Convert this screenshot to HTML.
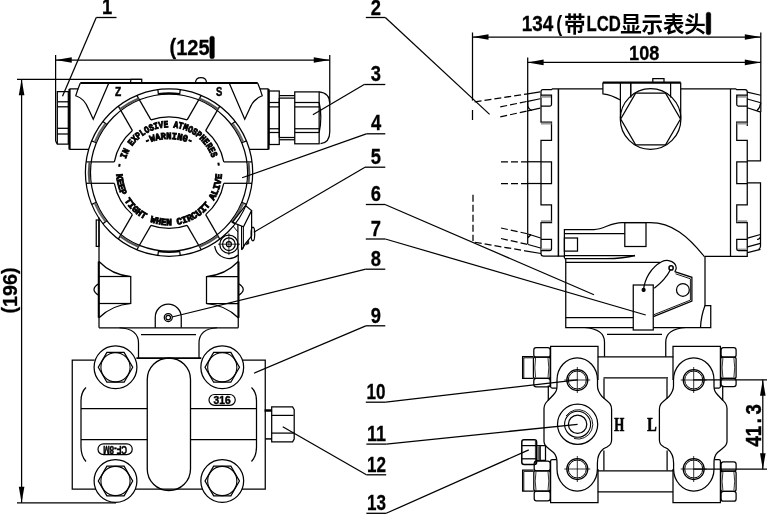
<!DOCTYPE html>
<html><head><meta charset="utf-8"><title>Transmitter outline drawing</title>
<style>
html,body{margin:0;padding:0;background:#fff;}
svg{display:block;will-change:transform;}
.sb{font-family:"Liberation Sans",sans-serif;font-weight:bold;}
.cj{font-family:"Liberation Sans","Noto Sans CJK SC",sans-serif;font-weight:bold;}
.sf{font-family:"Liberation Serif",serif;font-weight:bold;}
.cv{font-family:"Liberation Mono",monospace;font-weight:bold;}
</style></head><body>
<svg width="767" height="514" viewBox="0 0 767 514">
<rect x="0" y="0" width="767" height="514" fill="#fff" stroke="none"/>
<g stroke="#000" fill="none" stroke-width="1.25">
<line x1="17" y1="79.25" x2="141.75" y2="79.25"/>
<line x1="17" y1="502.75" x2="116" y2="502.75"/>
<line x1="21.6" y1="79.25" x2="21.6" y2="502.75"/>
<path d="M21.6,79.25 L24.4,95.25 L18.8,95.25 Z" fill="#000" stroke="none"/>
<path d="M21.6,502.75 L18.8,486.75 L24.4,486.75 Z" fill="#000" stroke="none"/>
<line x1="55.75" y1="60" x2="329.75" y2="60"/>
<path d="M55.75,60 L71.75,57.2 L71.75,62.8 Z" fill="#000" stroke="none"/>
<path d="M329.75,60 L313.75,62.8 L313.75,57.2 Z" fill="#000" stroke="none"/>
<line x1="55.6" y1="55" x2="55.6" y2="141.2"/>
<line x1="329.75" y1="55" x2="329.75" y2="103"/>
<path d="M57.3,144.2 V91.5 H68.3 V144.2 H57.3 L55.6,141.2"/>
<line x1="57.4" y1="101.8" x2="68.3" y2="101.8"/>
<line x1="57.4" y1="106.8" x2="68.3" y2="106.8"/>
<line x1="57.4" y1="128.3" x2="68.3" y2="128.3"/>
<line x1="57.4" y1="134" x2="68.3" y2="134"/>
<line x1="80.25" y1="83" x2="257.75" y2="83" stroke-width="2"/>
<path d="M88.9,149.4 H70 V88.9 H78 L80.25,83.2"/>
<line x1="69.2" y1="88.9" x2="69.2" y2="149.4" stroke-width="1.6"/>
<path d="M78,88.9 L75.75,95.75 Q84.5,98.5 88.5,109 L93.25,119.25 L108.6,83.5"/>
<path d="M249.1,149.4 H268 V88.9 H260 L257.75,83.2"/>
<line x1="268.8" y1="88.9" x2="268.8" y2="149.4" stroke-width="1.6"/>
<path d="M260,88.9 L262.25,95.75 Q253.5,98.5 249.5,109 L244.75,119.25 L229.4,83.5"/>
<path d="M130.5,82.3 L131,79.25 H141.75 V82.3"/>
<path d="M195.5,82.3 Q196,77.6 201,77.6 Q206,77.6 206.5,82.3"/>
<rect x="269" y="91" width="10.25" height="53.5"/>
<line x1="269" y1="102.5" x2="279.25" y2="102.5"/>
<line x1="269" y1="106.9" x2="279.25" y2="106.9"/>
<line x1="269" y1="128.75" x2="279.25" y2="128.75"/>
<line x1="269" y1="132.5" x2="279.25" y2="132.5"/>
<line x1="279.25" y1="95.6" x2="294.75" y2="95.6"/>
<line x1="279.25" y1="98.1" x2="294.75" y2="98.1"/>
<line x1="279.25" y1="137.5" x2="294.75" y2="137.5"/>
<line x1="279.25" y1="139.75" x2="294.75" y2="139.75"/>
<line x1="279.25" y1="98.1" x2="279.25" y2="137.5"/>
<rect x="294.75" y="91.9" width="24.4" height="51.9"/>
<line x1="294.75" y1="102.5" x2="319.15" y2="102.5"/>
<line x1="294.75" y1="106.9" x2="319.15" y2="106.9"/>
<line x1="294.75" y1="128.75" x2="319.15" y2="128.75"/>
<line x1="294.75" y1="132.5" x2="319.15" y2="132.5"/>
<path d="M319.15,102.5 Q322.5,117.5 319.15,132.5"/>
<path d="M319.15,91.9 Q329.75,93 329.75,103.5 V131.9 Q329.75,142.5 320.5,143.6"/>
<circle cx="169.05" cy="172.6" r="83.65"/>
<circle cx="169.05" cy="172.6" r="78.6"/>
<line x1="187.14" y1="119.87" x2="201.26" y2="95.4"/>
<line x1="205.67" y1="130.57" x2="219.8" y2="106.1"/>
<path d="M199.51,98.41 A80.2,80.2 0 0 1 218.07,109.12" stroke-width="2.2" stroke="#555"/>
<line x1="223.76" y1="161.9" x2="252.01" y2="161.9"/>
<line x1="223.76" y1="183.3" x2="252.01" y2="183.3"/>
<path d="M248.53,161.89 A80.2,80.2 0 0 1 248.53,183.31" stroke-width="2.2" stroke="#555"/>
<line x1="205.67" y1="214.63" x2="219.8" y2="239.1"/>
<line x1="187.14" y1="225.33" x2="201.26" y2="249.8"/>
<path d="M218.07,236.08 A80.2,80.2 0 0 1 199.51,246.79" stroke-width="2.2" stroke="#555"/>
<line x1="150.96" y1="225.33" x2="136.84" y2="249.8"/>
<line x1="132.43" y1="214.63" x2="118.3" y2="239.1"/>
<path d="M138.59,246.79 A80.2,80.2 0 0 1 120.03,236.08" stroke-width="2.2" stroke="#555"/>
<line x1="114.34" y1="183.3" x2="86.09" y2="183.3"/>
<line x1="114.34" y1="161.9" x2="86.09" y2="161.9"/>
<path d="M89.57,183.31 A80.2,80.2 0 0 1 89.57,161.89" stroke-width="2.2" stroke="#555"/>
<line x1="132.43" y1="130.57" x2="118.3" y2="106.1"/>
<line x1="150.96" y1="119.87" x2="136.84" y2="95.4"/>
<path d="M120.03,109.12 A80.2,80.2 0 0 1 138.59,98.41" stroke-width="2.2" stroke="#555"/>
<path d="M150.96,119.87 A55.75,55.75 0 0 1 187.14,119.87"/>
<line x1="157.84" y1="89.7" x2="158.52" y2="94.71"/>
<line x1="180.26" y1="89.7" x2="179.58" y2="94.71"/>
<path d="M158.4,93.82 A79.5,79.5 0 0 1 179.7,93.82" stroke-width="1.6"/>
<path d="M205.67,130.57 A55.75,55.75 0 0 1 223.76,161.9"/>
<line x1="235.24" y1="121.45" x2="231.24" y2="124.53"/>
<line x1="246.44" y1="140.86" x2="241.77" y2="142.77"/>
<path d="M232.68,123.78 A80.2,80.2 0 0 1 243.15,141.91" stroke-width="2.3" stroke="#666"/>
<path d="M223.76,183.3 A55.75,55.75 0 0 1 205.67,214.63"/>
<line x1="246.44" y1="204.34" x2="241.77" y2="202.43"/>
<line x1="235.24" y1="223.75" x2="231.24" y2="220.67"/>
<path d="M243.15,203.29 A80.2,80.2 0 0 1 232.68,221.42" stroke-width="2.3" stroke="#666"/>
<path d="M187.14,225.33 A55.75,55.75 0 0 1 150.96,225.33"/>
<line x1="180.26" y1="255.5" x2="179.58" y2="250.49"/>
<line x1="157.84" y1="255.5" x2="158.52" y2="250.49"/>
<path d="M179.7,251.38 A79.5,79.5 0 0 1 158.4,251.38" stroke-width="1.6"/>
<path d="M132.43,214.63 A55.75,55.75 0 0 1 114.34,183.3"/>
<line x1="102.86" y1="223.75" x2="106.86" y2="220.67"/>
<line x1="91.66" y1="204.34" x2="96.33" y2="202.43"/>
<path d="M105.42,221.42 A80.2,80.2 0 0 1 94.95,203.29" stroke-width="2.3" stroke="#666"/>
<path d="M114.34,161.9 A55.75,55.75 0 0 1 132.43,130.57"/>
<line x1="91.66" y1="140.86" x2="96.33" y2="142.77"/>
<line x1="102.86" y1="121.45" x2="106.86" y2="124.53"/>
<path d="M94.95,141.91 A80.2,80.2 0 0 1 105.42,123.78" stroke-width="2.3" stroke="#666"/>
<defs><path id="tp1" d="M123.96,168.26 A45.3,45.3 0 0 1 214.06,167.47" fill="none" stroke="none"/><path id="tp2" d="M116.27,173.98 A52.8,52.8 0 0 0 221.83,173.98" fill="none" stroke="none"/><path id="tp3" d="M146.05,144.09 A53.3,53.3 0 0 1 191.95,144.09" fill="none" stroke="none"/></defs>
<path d="M245.4,205.6 L251.6,210.6 L243.5,226.8 L232.3,222.4Z"/>
<line x1="251.6" y1="210.6" x2="251.6" y2="236.1"/>
<line x1="237.9" y1="225" x2="237.9" y2="249.8"/>
<line x1="241.6" y1="226" x2="241.6" y2="249.8"/>
<line x1="243.5" y1="226.8" x2="243.5" y2="248.5" stroke-width="0.9"/>
<circle cx="228.9" cy="244.2" r="9.1"/>
<circle cx="228.9" cy="244.2" r="6.3"/>
<circle cx="228.9" cy="244.2" r="2.5"/>
<line x1="218" y1="244.2" x2="240" y2="244.2" stroke-width="0.8"/>
<line x1="228.9" y1="233.3" x2="228.9" y2="255.1" stroke-width="0.8"/>
<path d="M214.7,246 A14.3,14.3 0 0 0 238.2,255"/>
<ellipse cx="252.9" cy="234" rx="1.8" ry="6.8"/>
<path d="M251.6,236.1 L245.4,243.6 L241.6,249.8"/>
<path d="M248.6,240.2 L245.8,245 L249,243.6Z" stroke-width="0.5" fill="#000"/>
<path d="M233,226 L237.9,232" stroke-width="0.9"/>
<line x1="99" y1="217.5" x2="99" y2="327.75"/>
<line x1="238.25" y1="249.5" x2="238.25" y2="327.75"/>
<rect x="96.25" y="220" width="2.75" height="26.4"/>
<line x1="99" y1="327.75" x2="238.25" y2="327.75"/>
<path d="M99,261.5 Q112,275 130.75,276.5 V303.5 Q112,305 99,317.75"/>
<line x1="99" y1="276.5" x2="130.75" y2="276.5"/>
<line x1="99" y1="303.5" x2="130.75" y2="303.5"/>
<path d="M99,283.5 Q89,289.5 99,295.5"/>
<line x1="98.7" y1="261.5" x2="98.7" y2="317.75" stroke-width="1.9"/>
<path d="M238.25,261.5 Q225.25,275 206.5,276.5 V303.5 Q225.25,305 238.25,317.75"/>
<line x1="238.25" y1="276.5" x2="206.5" y2="276.5"/>
<line x1="238.25" y1="303.5" x2="206.5" y2="303.5"/>
<path d="M238.25,283.5 Q248.25,289.5 238.25,295.5"/>
<line x1="238.55" y1="261.5" x2="238.55" y2="317.75" stroke-width="1.9"/>
<path d="M155.25,327.75 V317.2 A13,13 0 0 1 181.25,317.2 V327.75"/>
<circle cx="168.25" cy="317.6" r="4"/>
<circle cx="168.25" cy="317.6" r="2.3"/>
<path d="M119.5,327.75 Q138.5,329 138.5,343 V358"/>
<path d="M217,327.75 Q199,329 199,343 V358"/>
<line x1="141" y1="334.6" x2="196" y2="334.6"/>
<line x1="136.4" y1="358.1" x2="201.3" y2="358.1" stroke-width="1.6"/>
<path d="M94.6,360 H72.25 V489 H96"/>
<path d="M243,360 H265.25 V489 H241.6"/>
<path d="M135,489 H202.8"/>
<circle cx="115.5" cy="367.3" r="21.4"/>
<circle cx="115.5" cy="367.3" r="14.6" stroke-width="1.1"/>
<path d="M132.7,367.3 L124.1,382.2 L106.9,382.2 L98.3,367.3 L106.9,352.4 L124.1,352.4Z"/>
<circle cx="115.5" cy="481" r="21.4"/>
<circle cx="115.5" cy="481" r="14.6" stroke-width="1.1"/>
<path d="M132.7,481 L124.1,495.9 L106.9,495.9 L98.3,481 L106.9,466.1 L124.1,466.1Z"/>
<circle cx="222.25" cy="367.3" r="21.4"/>
<circle cx="222.25" cy="367.3" r="14.6" stroke-width="1.1"/>
<path d="M239.45,367.3 L230.85,382.2 L213.65,382.2 L205.05,367.3 L213.65,352.4 L230.85,352.4Z"/>
<circle cx="222.25" cy="481" r="21.4"/>
<circle cx="222.25" cy="481" r="14.6" stroke-width="1.1"/>
<path d="M239.45,481 L230.85,495.9 L213.65,495.9 L205.05,481 L213.65,466.1 L230.85,466.1Z"/>
<path d="M147.25,468.9 V379.6 A21.6,21.6 0 0 1 190.5,379.6 V468.9 A21.6,21.6 0 0 1 147.25,468.9Z" stroke-width="1.3"/>
<path d="M86,387.5 Q81,392 81,401 V447 Q81,456 86,461.5"/>
<path d="M251.5,387.5 Q256.5,392 256.5,401 V447 Q256.5,456 251.5,461.5"/>
<line x1="81" y1="408.6" x2="147.25" y2="408.6"/>
<line x1="190.5" y1="408.6" x2="256.5" y2="408.6"/>
<line x1="81" y1="439.6" x2="147.25" y2="439.6"/>
<line x1="190.5" y1="439.6" x2="256.5" y2="439.6"/>
<rect x="209" y="394.5" width="26.25" height="10.8" rx="5.4" stroke-width="1.2"/>
<rect x="98" y="443.8" width="34.25" height="10.8" rx="5.4" stroke-width="1.2"/>
<line x1="264.6" y1="410.5" x2="271.7" y2="410.5" stroke-width="2.5"/>
<line x1="265.25" y1="438.9" x2="271.7" y2="438.9" stroke-width="1.5"/>
<path d="M271.7,406.9 H292.6 L294.2,409.6 V439.1 L292.6,441.8 H271.7 Z"/>
<line x1="271.7" y1="415.4" x2="293.6" y2="415.4"/>
<line x1="271.7" y1="433.1" x2="293.6" y2="433.1"/>
<rect x="209.8" y="36.2" width="4.6" height="22.6" rx="2" stroke-width="0.4" fill="#000"/>
<line x1="472.5" y1="37" x2="760.8" y2="37"/>
<path d="M472.5,37 L488.5,34.2 L488.5,39.8 Z" fill="#000" stroke="none"/>
<path d="M760.8,37 L744.8,39.8 L744.8,34.2 Z" fill="#000" stroke="none"/>
<line x1="527.6" y1="62.4" x2="760.8" y2="62.4"/>
<path d="M527.6,62.4 L543.6,59.6 L543.6,65.2 Z" fill="#000" stroke="none"/>
<path d="M760.8,62.4 L744.8,65.2 L744.8,59.6 Z" fill="#000" stroke="none"/>
<line x1="472.5" y1="32.5" x2="472.5" y2="100.6"/>
<line x1="472.5" y1="110" x2="472.5" y2="120"/>
<line x1="760.8" y1="32.5" x2="760.8" y2="112"/>
<line x1="527.7" y1="57.5" x2="527.7" y2="233.6"/>
<rect x="706.2" y="12.2" width="4.6" height="22.6" rx="2" stroke-width="0.4" fill="#000"/>
<path d="M602.9,88.8 H552.5 L551.5,89.7 H543 Q541,89.7 541,91.7 V122 H551.5 V140.4 H541 V204.75 H551.5 V222.5 H541 V253.5 Q541,256 543.5,256 H564.4"/>
<path d="M680.7,88.8 H735.7 L736.7,89.7 H745 Q747.25,89.7 747.25,92 V126 M747.25,122 H736.75 V140.4 H747.25 V204.75 H736.75 V222.5 H747.25 V256.3 H705"/>
<line x1="558.4" y1="89" x2="558.4" y2="256.5" stroke-width="1.5"/>
<line x1="730.5" y1="89" x2="730.5" y2="256.3"/>
<rect x="541" y="95.9" width="10.5" height="1.8" stroke-width="0.01" fill="#999"/>
<rect x="541" y="122.7" width="10.5" height="1.8" stroke-width="0.01" fill="#999"/>
<rect x="541" y="220.3" width="10.5" height="1.8" stroke-width="0.01" fill="#999"/>
<rect x="541" y="248.6" width="10.5" height="1.8" stroke-width="0.01" fill="#999"/>
<path d="M541,95.2 H551.5 V104.5 Q551.5,106 550,106 H541"/>
<path d="M541,239.25 H551.5 V249 Q551.5,250.5 550,250.5 H541"/>
<path d="M541,161.75 H551.5 V183.5 H541"/>
<rect x="736.75" y="95.9" width="10.5" height="1.8" stroke-width="0.01" fill="#999"/>
<rect x="736.75" y="122.7" width="10.5" height="1.8" stroke-width="0.01" fill="#999"/>
<rect x="736.75" y="220.3" width="10.5" height="1.8" stroke-width="0.01" fill="#999"/>
<rect x="736.75" y="248.6" width="10.5" height="1.8" stroke-width="0.01" fill="#999"/>
<path d="M747.25,95.2 H736.75 V104.5 Q736.75,106 738.25,106 H747.25"/>
<path d="M747.25,239.25 H736.75 V249 Q736.75,250.5 738.25,250.5 H747.25"/>
<path d="M747.25,161.75 H736.75 V183.5 H747.25"/>
<line x1="474.6" y1="101.9" x2="527.75" y2="93.8" stroke-dasharray="7 3"/>
<line x1="500.25" y1="106.9" x2="527.75" y2="101.3" stroke-dasharray="7 3"/>
<line x1="500.25" y1="116.9" x2="527.75" y2="110.85" stroke-dasharray="7 3"/>
<line x1="527.75" y1="93.8" x2="540.25" y2="91.9"/>
<line x1="527.75" y1="101.3" x2="540.25" y2="98.75"/>
<line x1="527.75" y1="110.85" x2="540.25" y2="108.1"/>
<line x1="501" y1="161.75" x2="528" y2="161.75" stroke-dasharray="7 3"/>
<line x1="501" y1="183.5" x2="528" y2="183.5" stroke-dasharray="7 3"/>
<line x1="528" y1="161.75" x2="541" y2="161.75"/>
<line x1="528" y1="183.5" x2="541" y2="183.5"/>
<line x1="473" y1="194.75" x2="473" y2="241" stroke-dasharray="7 3"/>
<line x1="501" y1="228" x2="528.5" y2="234" stroke-dasharray="7 3"/>
<line x1="501" y1="238.5" x2="528" y2="244.5" stroke-dasharray="7 3"/>
<line x1="474.75" y1="242.25" x2="525" y2="250.8" stroke-dasharray="7 3"/>
<line x1="525" y1="250.8" x2="541" y2="253.5"/>
<line x1="528" y1="234" x2="540.6" y2="238"/>
<line x1="528" y1="244.5" x2="540.6" y2="248"/>
<path d="M527.7,100.5 V105 Q528,109 532,110.5"/>
<path d="M527.7,233.6 V244 M527.7,238 L531,234.5"/>
<line x1="747.25" y1="92.1" x2="760.75" y2="95.25"/>
<line x1="747.25" y1="99" x2="760.75" y2="102.75"/>
<line x1="747.25" y1="107.75" x2="760.75" y2="112.1"/>
<path d="M760.75,102.75 Q760,108 757,110.5"/>
<path d="M760.5,112 V160.9 H747.25 M747.25,182.8 H760.5 V236.8 Q760,239 757,239.5"/>
<line x1="760.5" y1="234.5" x2="747.5" y2="238.2"/>
<line x1="760.5" y1="243.3" x2="747.5" y2="246.9"/>
<line x1="760.5" y1="249.3" x2="747.5" y2="252.6"/>
<path d="M760.5,236.8 V246 Q760.5,248.5 758.5,249.5"/>
<line x1="602.9" y1="82.6" x2="680.7" y2="82.6" stroke-width="2.1"/>
<path d="M602.9,82.5 V93.8 Q612,95 620.4,100"/>
<line x1="620.4" y1="82.5" x2="620.4" y2="118"/>
<line x1="630.8" y1="82.5" x2="630.8" y2="97.5" stroke-width="1.5"/>
<line x1="670.6" y1="82.5" x2="670.6" y2="97.5"/>
<line x1="680.7" y1="82.5" x2="680.7" y2="118"/>
<path d="M652.8,82 V78.5 H664 V82"/>
<circle cx="650.6" cy="119" r="30.3"/>
<path d="M680.5,119 L665.55,144.89 L635.65,144.89 L620.7,119 L635.65,93.11 L665.55,93.11Z"/>
<path d="M564.4,258 V229.5 H594 C604,229.5 610,222.6 622,222.6 H650.2 C672,222.6 688,236 704.6,256.9"/>
<line x1="564.4" y1="233.6" x2="624.8" y2="233.6"/>
<rect x="624.8" y="222.6" width="21.2" height="23.9"/>
<rect x="564.4" y="238" width="13.1" height="13.1"/>
<line x1="564.4" y1="255.5" x2="635" y2="255.5"/>
<path d="M564.4,258.6 H606 Q624,258.6 635,255.5" stroke-width="1.4"/>
<path d="M565.75,258 V327.5 H710.75 V305.5 H705 V256.9"/>
<path d="M705,305.5 Q701,316 700.5,327.5"/>
<line x1="565.75" y1="262.3" x2="660" y2="262.3"/>
<line x1="565.75" y1="317.5" x2="633.25" y2="317.5"/>
<rect x="633.25" y="285" width="20" height="45" fill="#fff"/>
<circle cx="643.6" cy="289.9" r="1.5" fill="#000"/>
<path d="M643.6,289.9 C644.5,279 651,267.5 661.6,261.8 C666,259.6 671.5,260.2 674.5,263.5 C677,266.5 676.5,270 674.7,271.6"/>
<path d="M670.3,270 Q665.5,279.5 654.3,288.3"/>
<circle cx="671.1" cy="267.9" r="2.1" stroke-width="1.5"/>
<path d="M674.7,271.6 L691.9,277.3 V301.1 L653.4,316.6"/>
<path d="M675.5,273.8 L690.4,278.8 V300.1 L653.4,314.9" stroke-width="0.9"/>
<circle cx="682.9" cy="289.9" r="6.4"/>
<path d="M584.5,327.5 Q604.5,329 604.5,342 V356.75"/>
<path d="M685.75,327.5 Q665.75,329 665.75,342 V356.75"/>
<line x1="607" y1="334.25" x2="662" y2="334.25"/>
<line x1="597.7" y1="356.8" x2="673.3" y2="356.8"/>
<line x1="603.5" y1="377.8" x2="668" y2="377.8"/>
<line x1="597.75" y1="470.9" x2="673" y2="470.9"/>
<line x1="597.75" y1="491.8" x2="673" y2="491.8"/>
<path d="M598,380 V346.4 H550.6 V386.6 Q550.6,388.1 552.1,388.1 H556.8"/>
<line x1="548.3" y1="385.6" x2="548.3" y2="400.2"/>
<path d="M598,469 V502.7 H550.6 V461 Q550.6,459.5 552.1,459.5 H556"/>
<path d="M557,380 A20.25,22.25 0 0 1 597.5,380"/>
<path d="M557,469 A20.2,22 0 0 0 597.4,469"/>
<path d="M557,380 V386 C557,391 555.5,392.5 553,395.3 L548.5,400 C546,402.5 544,404 544,408.5 V441.5 C544,445 546,446.5 548.5,448.5 L553.5,452.5 C556,455 557,458 557,463 V469"/>
<path d="M597.5,380 V386 C597.5,391 599.5,393.5 602,396.5 L606,400 C609,402.5 611.6,404 611.6,409.5 V440 C611.6,444.5 609.5,445.5 607,447 L603.5,448.75 C599.5,452 597.4,456 597.4,463 V469"/>
<circle cx="577.3" cy="380" r="10.5"/>
<circle cx="577.3" cy="380" r="9" stroke-width="1"/>
<line x1="564.3" y1="380" x2="590.3" y2="380" stroke-width="0.8"/>
<line x1="577.3" y1="367" x2="577.3" y2="393" stroke-width="0.8"/>
<circle cx="577.3" cy="469" r="10.5"/>
<circle cx="577.3" cy="469" r="9" stroke-width="1"/>
<line x1="564.3" y1="469" x2="590.3" y2="469" stroke-width="0.8"/>
<line x1="577.3" y1="456" x2="577.3" y2="482" stroke-width="0.8"/>
<line x1="604" y1="378.5" x2="604" y2="398.5"/>
<line x1="603.9" y1="450.6" x2="603.9" y2="470.6"/>
<path d="M673,380 V346.4 H720.4 V386.6 Q720.4,388.1 718.9,388.1 H714.2"/>
<line x1="722.7" y1="385.6" x2="722.7" y2="400.2"/>
<path d="M673,469 V502.7 H720.4 V461 Q720.4,459.5 718.9,459.5 H715"/>
<path d="M714,380 A20.25,22.25 0 0 0 673.5,380"/>
<path d="M714,469 A20.2,22 0 0 1 673.6,469"/>
<path d="M714,380 V386 C714,391 715.5,392.5 718,395.3 L722.5,400 C725,402.5 727,404 727,408.5 V441.5 C727,445 725,446.5 722.5,448.5 L717.5,452.5 C715,455 714,458 714,463 V469"/>
<path d="M673.5,380 V386 C673.5,391 671.5,393.5 669,396.5 L665,400 C662,402.5 659.4,404 659.4,409.5 V440 C659.4,444.5 661.5,445.5 664,447 L667.5,448.75 C671.5,452 673.6,456 673.6,463 V469"/>
<circle cx="693.7" cy="380" r="10.5"/>
<circle cx="693.7" cy="380" r="9" stroke-width="1"/>
<line x1="680.7" y1="380" x2="706.7" y2="380" stroke-width="0.8"/>
<line x1="693.7" y1="367" x2="693.7" y2="393" stroke-width="0.8"/>
<circle cx="693.7" cy="469" r="10.5"/>
<circle cx="693.7" cy="469" r="9" stroke-width="1"/>
<line x1="680.7" y1="469" x2="706.7" y2="469" stroke-width="0.8"/>
<line x1="693.7" y1="456" x2="693.7" y2="482" stroke-width="0.8"/>
<line x1="667" y1="378.5" x2="667" y2="398.5"/>
<line x1="667.1" y1="450.6" x2="667.1" y2="470.6"/>
<circle cx="577.6" cy="424.3" r="20.1"/>
<circle cx="577.6" cy="424.3" r="9.2"/>
<circle cx="577.6" cy="424.3" r="13" stroke-width="1.1"/>
<path d="M566,416 A14.7,14.7 0 1 1 574,438.5" stroke-width="0.9"/>
<rect x="533.8" y="347.6" width="16.4" height="9.6" rx="2.3"/>
<rect x="533.4" y="357.2" width="16.8" height="21.2" rx="2"/>
<rect x="533.8" y="378.4" width="16.4" height="8.5" rx="2.3"/>
<path d="M535.6,358 Q534,367.8 535.6,377.6" stroke-width="0.8"/>
<path d="M548,358 Q549.6,367.8 548,377.6" stroke-width="0.8"/>
<path d="M533.4,356.6 H522.6 V378.4 H533.4"/>
<path d="M533.4,357.8 H523.8 V378.4" stroke-width="0.9"/>
<rect x="534.2" y="461.2" width="16" height="9.6" rx="2.3"/>
<rect x="533.8" y="470.8" width="16.4" height="20.3" rx="2"/>
<rect x="534.2" y="491.1" width="16" height="9.8" rx="2.3"/>
<path d="M536,471.6 Q534.4,480.95 536,490.3" stroke-width="0.8"/>
<path d="M548,471.6 Q549.6,480.95 548,490.3" stroke-width="0.8"/>
<path d="M533.8,470.2 H522.6 V491.1 H533.8"/>
<path d="M533.8,471.4 H523.8 V491.1" stroke-width="0.9"/>
<rect x="721.1" y="347.6" width="15" height="9.6" rx="2.3"/>
<rect x="720.7" y="357.2" width="15.4" height="21.2" rx="2"/>
<rect x="721.1" y="378.4" width="15" height="8.2" rx="2.3"/>
<path d="M722.9,358 Q721.3,367.8 722.9,377.6" stroke-width="0.8"/>
<path d="M733.9,358 Q735.5,367.8 733.9,377.6" stroke-width="0.8"/>
<rect x="721.1" y="461.8" width="15" height="9.4" rx="2.3"/>
<rect x="720.7" y="471.2" width="15.4" height="20.1" rx="2"/>
<rect x="721.1" y="491.3" width="15" height="9.9" rx="2.3"/>
<path d="M722.9,472 Q721.3,481.25 722.9,490.5" stroke-width="0.8"/>
<path d="M733.9,472 Q735.5,481.25 733.9,490.5" stroke-width="0.8"/>
<rect x="521.8" y="439.8" width="14.8" height="24.7" rx="2.2" stroke-width="1.5"/>
<line x1="521.8" y1="445.6" x2="536.6" y2="445.6"/>
<line x1="521.8" y1="458.8" x2="536.6" y2="458.8"/>
<line x1="535.4" y1="441" x2="535.4" y2="463.4" stroke-width="0.8"/>
<path d="M536.6,445.6 H545.5 V460.4 H536.6"/>
<rect x="537.2" y="446.2" width="2.8" height="13.6" stroke-width="0.01" fill="#666"/>
<line x1="540.2" y1="445.6" x2="540.2" y2="460.4"/>
<line x1="693.5" y1="379.8" x2="767" y2="379.8"/>
<line x1="693.5" y1="469.2" x2="767" y2="469.2"/>
<line x1="762.8" y1="379.8" x2="762.8" y2="469.2"/>
<path d="M762.8,379.8 L765.6,395.8 L760,395.8 Z" fill="#000" stroke="none"/>
<path d="M762.8,469.2 L760,453.2 L765.6,453.2 Z" fill="#000" stroke="none"/>
<line x1="96.25" y1="17.5" x2="116.5" y2="17.5" stroke-width="1.3"/>
<line x1="96.25" y1="17.5" x2="62.5" y2="96.25"/>
<line x1="365.8" y1="17.5" x2="385.3" y2="17.5" stroke-width="1.3"/>
<line x1="385.3" y1="17.5" x2="489.6" y2="114.4"/>
<line x1="364.2" y1="84.5" x2="385.3" y2="84.5" stroke-width="1.3"/>
<line x1="364.2" y1="84.5" x2="312.9" y2="114.75"/>
<line x1="366.3" y1="133.8" x2="385.3" y2="133.8" stroke-width="1.3"/>
<line x1="366.3" y1="133.8" x2="242.1" y2="177.75"/>
<line x1="365" y1="167.2" x2="385.3" y2="167.2" stroke-width="1.3"/>
<line x1="365" y1="167.2" x2="253.75" y2="232.25"/>
<line x1="365.8" y1="204.5" x2="385" y2="204.5" stroke-width="1.3"/>
<line x1="385" y1="204.5" x2="594" y2="294.75"/>
<line x1="365.8" y1="239" x2="385.3" y2="239" stroke-width="1.3"/>
<line x1="385.3" y1="239" x2="645.75" y2="315"/>
<line x1="365.8" y1="269.2" x2="385.3" y2="269.2" stroke-width="1.3"/>
<line x1="365.8" y1="269.2" x2="172" y2="317"/>
<line x1="365.8" y1="325.8" x2="385.3" y2="325.8" stroke-width="1.3"/>
<line x1="365.8" y1="325.8" x2="254" y2="373.25"/>
<line x1="365.8" y1="402.2" x2="385.8" y2="402.2" stroke-width="1.3"/>
<line x1="385.8" y1="402.2" x2="577.6" y2="379.8"/>
<line x1="366.4" y1="444.1" x2="386.2" y2="444.1" stroke-width="1.3"/>
<line x1="386.2" y1="444.1" x2="577.6" y2="424.3"/>
<line x1="366.4" y1="474.8" x2="386.2" y2="474.8" stroke-width="1.3"/>
<line x1="366.4" y1="474.8" x2="282.75" y2="426.75"/>
<line x1="366.4" y1="513.3" x2="386.2" y2="513.3" stroke-width="1.3"/>
<line x1="386.2" y1="513.3" x2="528.8" y2="449.9"/>
</g>
<g fill="#000" stroke="none">
<text class="cv" font-size="9.5" stroke="#000" stroke-width="0.9" dy="-2.4 2.4 0 0 0 0 0 0 0 0 0 0 0 0 0 0 0 0 0 0 0 0 0 0 0 0 0 -2.4"><textPath href="#tp1" textLength="132.33" lengthAdjust="spacingAndGlyphs">- IN EXPLOSIVE ATMOSPHERES -</textPath></text>
<text class="cv" font-size="9.5" stroke="#000" stroke-width="0.9"><textPath href="#tp2" textLength="162.61" lengthAdjust="spacingAndGlyphs">KEEP TIGHT WHEN CIRCUIT ALIVE</textPath></text>
<text class="cv" font-size="9.5" stroke="#000" stroke-width="0.9"><textPath href="#tp3" textLength="46.94" lengthAdjust="spacingAndGlyphs">-WARNING-</textPath></text>
<text class="sb" x="222.1" y="403.6" font-size="10" stroke="#000" stroke-width="0.45" text-anchor="middle" textLength="17" lengthAdjust="spacingAndGlyphs">316</text>
<text class="sb" font-size="10" stroke="#000" stroke-width="0.45" text-anchor="middle" textLength="24" lengthAdjust="spacingAndGlyphs" transform="translate(115.1,449.2) rotate(180)" y="3.6">CF-8M</text>
<text class="sb" x="169.6" y="54.6" font-size="22" stroke="#000" stroke-width="0.3" textLength="40" lengthAdjust="spacingAndGlyphs" dy="-1 1 0 0">(125</text><text class="sb" x="210.2" y="53.8" font-size="19" textLength="3.8" lengthAdjust="spacingAndGlyphs">)</text>
<text class="sb" font-size="20.5" stroke="#000" stroke-width="0.3" text-anchor="middle" textLength="46" lengthAdjust="spacingAndGlyphs" transform="translate(17.4,290.5) rotate(-90)" dy="-1.7 1.7 0 0 -1.7">(196)</text>
<text class="sb" x="521.7" y="31" font-size="22" stroke="#000" stroke-width="0.3" textLength="31.5" lengthAdjust="spacingAndGlyphs">134</text><text class="sb" x="556.3" y="30.5" font-size="22" textLength="6" lengthAdjust="spacingAndGlyphs">(</text><text class="cj" x="564" y="31.6" font-size="21.5">带</text><text class="sb" x="586.5" y="31" font-size="22" stroke="#000" stroke-width="0.3" textLength="34.3" lengthAdjust="spacingAndGlyphs">LCD</text><text class="cj" x="620.2" y="31.6" font-size="21.5" textLength="85.6" lengthAdjust="spacing">显示表头</text><text class="sb" x="706.6" y="29.8" font-size="19" textLength="3.8" lengthAdjust="spacingAndGlyphs">)</text>
<text class="sb" x="629.1" y="60.2" font-size="21" stroke="#000" stroke-width="0.3" textLength="30.3" lengthAdjust="spacingAndGlyphs">108</text>
<text class="sb" font-size="21.6" stroke="#000" stroke-width="0.45" transform="translate(760.9,446.5) rotate(-90) scale(0.86,1)" dx="0 0 3 4.2">41.3</text>
<text class="sf" x="614.3" y="431" font-size="18.4" stroke="#000" stroke-width="0.7" textLength="10" lengthAdjust="spacingAndGlyphs">H</text>
<text class="sf" x="647.3" y="431" font-size="18.4" stroke="#000" stroke-width="0.7" textLength="9.5" lengthAdjust="spacingAndGlyphs">L</text>
<text class="sb" x="114.9" y="96.4" font-size="12.3" stroke="#000" stroke-width="0.5" textLength="6.2" lengthAdjust="spacingAndGlyphs">Z</text>
<text class="sb" x="216" y="95.7" font-size="12.3" stroke="#000" stroke-width="0.5" textLength="6.3" lengthAdjust="spacingAndGlyphs">S</text>
<text class="sb" x="107" y="13.9" font-size="22" stroke="#000" stroke-width="0.3" text-anchor="middle" textLength="10.2" lengthAdjust="spacingAndGlyphs">1</text>
<text class="sb" x="375.8" y="14.6" font-size="22" stroke="#000" stroke-width="0.3" text-anchor="middle" textLength="10.2" lengthAdjust="spacingAndGlyphs">2</text>
<text class="sb" x="375.8" y="81.1" font-size="22" stroke="#000" stroke-width="0.3" text-anchor="middle" textLength="10.2" lengthAdjust="spacingAndGlyphs">3</text>
<text class="sb" x="376.2" y="130.4" font-size="22" stroke="#000" stroke-width="0.3" text-anchor="middle" textLength="10.2" lengthAdjust="spacingAndGlyphs">4</text>
<text class="sb" x="375.8" y="163.7" font-size="22" stroke="#000" stroke-width="0.3" text-anchor="middle" textLength="10.2" lengthAdjust="spacingAndGlyphs">5</text>
<text class="sb" x="375.8" y="201.3" font-size="22" stroke="#000" stroke-width="0.3" text-anchor="middle" textLength="10.2" lengthAdjust="spacingAndGlyphs">6</text>
<text class="sb" x="375.8" y="236" font-size="22" stroke="#000" stroke-width="0.3" text-anchor="middle" textLength="10.2" lengthAdjust="spacingAndGlyphs">7</text>
<text class="sb" x="375.8" y="265.6" font-size="22" stroke="#000" stroke-width="0.3" text-anchor="middle" textLength="10.2" lengthAdjust="spacingAndGlyphs">8</text>
<text class="sb" x="375.8" y="323.1" font-size="22" stroke="#000" stroke-width="0.3" text-anchor="middle" textLength="10.2" lengthAdjust="spacingAndGlyphs">9</text>
<text class="sb" x="376" y="398.7" font-size="22" stroke="#000" stroke-width="0.3" text-anchor="middle" textLength="19" lengthAdjust="spacingAndGlyphs">10</text>
<text class="sb" x="376.6" y="440.9" font-size="22" stroke="#000" stroke-width="0.3" text-anchor="middle" textLength="19" lengthAdjust="spacingAndGlyphs">11</text>
<text class="sb" x="376.4" y="471.6" font-size="22" stroke="#000" stroke-width="0.3" text-anchor="middle" textLength="19" lengthAdjust="spacingAndGlyphs">12</text>
<text class="sb" x="376.4" y="510.1" font-size="22" stroke="#000" stroke-width="0.3" text-anchor="middle" textLength="19" lengthAdjust="spacingAndGlyphs">13</text>
</g>
</svg>
</body></html>
